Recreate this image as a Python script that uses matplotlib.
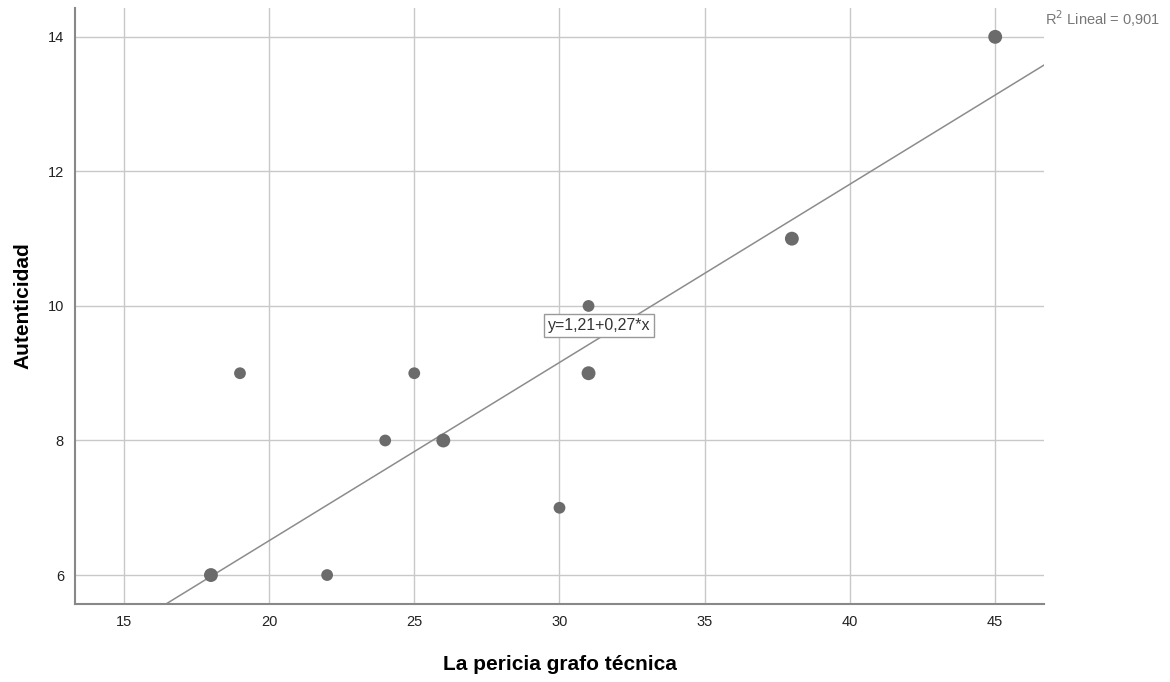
"""Scatter of Autenticidad vs. La pericia grafo técnica with linear fit (SPSS style)."""

import matplotlib
matplotlib.use("Agg")
import matplotlib.pyplot as plt
import numpy as np

plt.rcParams["font.family"] = ["Liberation Sans", "DejaVu Sans"]

# observed points (larger markers = overlapping cases)
pericia = [18, 19, 22, 24, 25, 26, 30, 31, 31, 38, 45]
autenticidad = [6, 9, 6, 8, 9, 8, 7, 10, 9, 11, 14]
overlap = [True, False, False, False, False, True, False, False, True, True, True]

# fitted line as reported
intercept = 1.21
slope = 0.265
r2_label = "R$^2$ Lineal = 0,901"
eq_label = "y=1,21+0,27*x"

x_ticks = [15, 20, 25, 30, 35, 40, 45]
y_ticks = [6, 8, 10, 12, 14]

fig = plt.figure(figsize=(11.7, 6.82), dpi=100)
ax = fig.add_axes([0.0641, 0.1144, 0.8282, 0.874])

ax.set_xlim(13.32, 46.68)
ax.set_ylim(5.57, 14.43)
ax.set_xticks(x_ticks)
ax.set_yticks(y_ticks)
ax.grid(True, color="#c8c8c8", linewidth=1.0)
ax.set_axisbelow(True)
ax.tick_params(length=0, labelsize=10.5, colors="#222222", pad=8)

for side in ["top", "right"]:
    ax.spines[side].set_visible(False)
for side in ["left", "bottom"]:
    ax.spines[side].set_color("#888888")
    ax.spines[side].set_linewidth(1.5)

xs = np.array(pericia)
ys = np.array(autenticidad)
sizes = np.where(overlap, 100, 72)
ax.scatter(xs, ys, s=sizes, color="#6b6b6b", edgecolors="none", zorder=3)

line_x = np.array([13.32, 46.68])
ax.plot(line_x, intercept + slope * line_x, color="#8c8c8c", linewidth=1.1, zorder=2)

ax.text(31.36, 9.71, eq_label, ha="center", va="center", fontsize=11.5, color="#333333",
        bbox=dict(boxstyle="square,pad=0.25", facecolor="white", edgecolor="#999999", linewidth=1.0),
        zorder=4)

fig.text(0.8935, 0.972, r2_label, ha="left", va="center", fontsize=10.5, color="#777777")

ax.set_xlabel("La pericia grafo técnica", fontsize=15, fontweight="bold", labelpad=19)
ax.set_ylabel("Autenticidad", fontsize=15, fontweight="bold", labelpad=11)

fig.savefig("out.png", dpi=100)
